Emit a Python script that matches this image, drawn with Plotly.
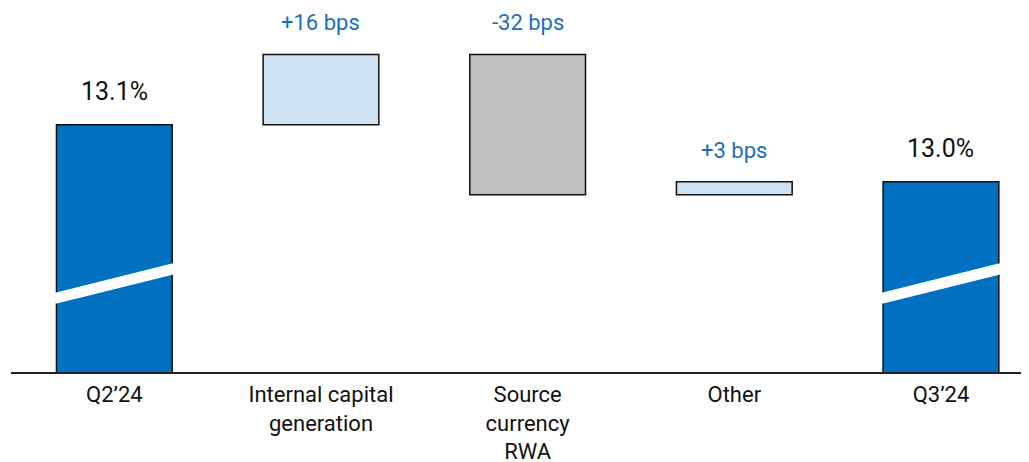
import plotly.graph_objects as go

# CET1 ratio bridge, Q2'24 -> Q3'24
categories = ["Q2’24", "Internal capital<br>generation", "Source<br>currency<br>RWA", "Other", "Q3’24"]
start_ratio = 13.10          # %
changes_bps = [16, -32, 3]   # basis points
value_labels = ["13.1%", "+16 bps", "-32 bps", "+3 bps", "13.0%"]

DARK_BLUE = "#0070c0"
LIGHT_BLUE = "#cde3f3"
GREY = "#bfbfbf"
LABEL_BLUE = "#1a6fba"
FONT = "Roboto, sans-serif"

# build floating bars from the running total
bases, heights, colors = [0], [start_ratio], [DARK_BLUE]
level = start_ratio
for d in changes_bps:
    step = d / 100
    new_level = level + step
    bases.append(min(level, new_level))
    heights.append(abs(step))
    colors.append(LIGHT_BLUE if d > 0 else GREY)
    level = new_level
bases.append(0)
heights.append(level)
colors.append(DARK_BLUE)
tops = [b + h for b, h in zip(bases, heights)]

x_idx = list(range(len(categories)))
bar_width = 0.56

fig = go.Figure(
    go.Bar(
        x=x_idx,
        y=heights,
        base=bases,
        width=bar_width,
        marker=dict(color=colors, line=dict(color="#111111", width=1.5)),
        hoverinfo="skip",
    )
)

# value labels above each bar
for i, (top, lab) in enumerate(zip(tops, value_labels)):
    is_total = i in (0, len(categories) - 1)
    fig.add_annotation(
        x=i,
        y=top,
        text=lab,
        showarrow=False,
        yanchor="bottom",
        yshift=17,
        font=dict(family=FONT, size=25 if is_total else 22,
                  color="#111111" if is_total else LABEL_BLUE),
    )

# white "axis break" slashes on the two total bars
for i in (0, len(categories) - 1):
    fig.add_shape(
        type="line",
        xref="x", yref="paper",
        x0=i - bar_width / 2 - 0.01, x1=i + bar_width / 2 + 0.01,
        y0=0.202, y1=0.284,
        line=dict(color="white", width=11),
        layer="above",
    )

# page body adds an 8px margin, so the figure is sized to fit the window
fig.update_layout(
    width=1021,
    height=454,
    margin=dict(l=3, r=0, t=0, b=90),
    plot_bgcolor="white",
    paper_bgcolor="white",
    showlegend=False,
    font=dict(family=FONT, size=22, color="#111111"),
)
fig.update_xaxes(
    tickmode="array",
    tickvals=x_idx,
    ticktext=categories,
    range=[-0.5, 4.426],
    automargin=False,
    showline=True,
    linecolor="#222222",
    linewidth=1.5,
    showgrid=False,
    ticks="",
    ticklabelstandoff=2,
    zeroline=False,
    tickfont=dict(family=FONT, size=22, color="#111111"),
)
fig.update_yaxes(
    range=[12.536, 13.366],
    visible=False,
    showgrid=False,
    zeroline=False,
)

fig.write_html("out.html")
